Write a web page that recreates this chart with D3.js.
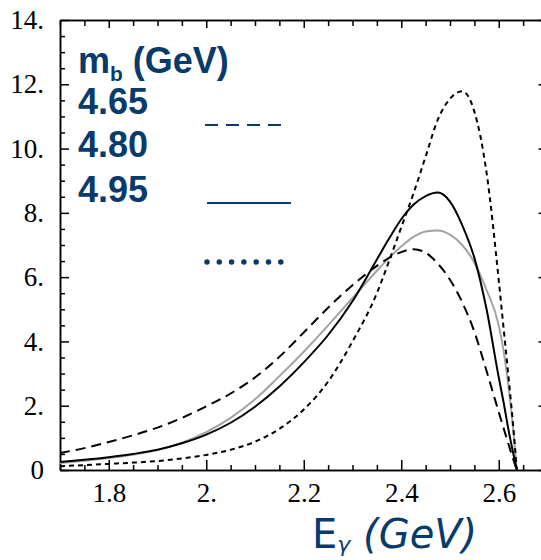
<!DOCTYPE html>
<html>
<head>
<meta charset="utf-8">
<script src="https://cdn.jsdelivr.net/npm/d3@7"></script>
<style>
  body { margin: 0; background: #fff; }
</style>
</head>
<body>
<svg id="spectrum" width="541" height="560"></svg>
<script>
// photon energy grid (GeV)
var energies = [1.70, 1.75, 1.80, 1.85, 1.90, 1.95, 2.00, 2.05, 2.10, 2.15, 2.20, 2.25, 2.30, 2.35,
    2.375, 2.40, 2.425, 2.45, 2.475, 2.50, 2.525, 2.55, 2.575, 2.60, 2.61, 2.62, 2.63, 2.637];

// m_b = 4.65 (dashed)
var mb465 = [0.53, 0.68, 0.87, 1.08, 1.32, 1.62, 1.98, 2.38, 2.88, 3.52, 4.28, 5.05, 5.75, 6.35,
    6.60, 6.78, 6.87, 6.76, 6.42, 5.92, 5.22, 4.30, 3.08, 1.80, 1.30, 0.80, 0.32, 0];
// m_b = 4.80 (solid)
var mb480 = [0.25, 0.32, 0.40, 0.50, 0.63, 0.83, 1.10, 1.47, 1.97, 2.60, 3.35, 4.20, 5.25, 6.55,
    7.20, 7.80, 8.25, 8.52, 8.63, 8.35, 7.62, 6.60, 5.00, 2.88, 2.10, 1.25, 0.50, 0];
// grey reference curve
var greyCurve = [0.22, 0.29, 0.37, 0.48, 0.62, 0.85, 1.18, 1.62, 2.20, 2.92, 3.68, 4.50, 5.35, 6.20,
    6.60, 6.95, 7.25, 7.42, 7.45, 7.32, 7.00, 6.45, 5.60, 4.50, 3.70, 2.60, 1.20, 0];
// m_b = 4.95 (dotted)
var mb495 = [0.12, 0.15, 0.19, 0.23, 0.28, 0.36, 0.47, 0.63, 0.88, 1.28, 1.88, 2.75, 4.00, 5.50,
    6.50, 7.55, 8.60, 9.75, 10.90, 11.55, 11.78, 11.15, 9.25, 5.90, 4.40, 2.90, 1.30, 0];

var xTicks = [1.8, 2.0, 2.2, 2.4, 2.6];
var xTickLabels = ["1.8", "2.", "2.2", "2.4", "2.6"];
var yTicks = [0, 2, 4, 6, 8, 10, 12, 14];
var yTickLabels = ["0", "2.", "4.", "6.", "8.", "10.", "12.", "14."];
var legendTitle = "(GeV)";
var legendLabels = ["4.65", "4.80", "4.95"];

(function spectrum() {
    var svg = d3.select("#spectrum"),
        blue = "#083a6c",
        plotLeft = 60, plotTop = 20, plotRight = 547.5, plotBottom = 470;

    var x = d3.scaleLinear().domain([1.7, 2.7]).range([plotLeft, plotRight]),
        y = d3.scaleLinear().domain([0, 14]).range([plotBottom, plotTop]);

    var xMinor = d3.range(1.7, 2.7001, 0.05).filter(function (v) {
        return xTicks.every(function (t) { return Math.abs(t - v) > 1e-6; });
    });
    var yMinor = d3.range(0, 14.001, 0.5).filter(function (v) {
        return yTicks.indexOf(v) < 0;
    });

    function styleAxis(g) {
        g.selectAll("path, line").attr("stroke", "#000").attr("stroke-width", 1.5);
        g.selectAll("text")
            .attr("font-family", "'Liberation Serif', 'DejaVu Serif', serif")
            .attr("font-size", 27)
            .attr("fill", "#000");
    }

    // bottom axis
    svg.append("g")
        .attr("transform", "translate(0," + plotBottom + ")")
        .call(d3.axisBottom(x).tickValues(xMinor).tickSize(-5).tickSizeOuter(0).tickFormat(""))
        .call(styleAxis);
    svg.append("g")
        .attr("transform", "translate(0," + plotBottom + ")")
        .call(d3.axisBottom(x).tickValues(xTicks).tickSize(-10).tickSizeOuter(0).tickPadding(13)
            .tickFormat(function (d, i) { return xTickLabels[i]; }))
        .call(styleAxis);

    // top axis
    svg.append("g")
        .attr("transform", "translate(0," + plotTop + ")")
        .call(d3.axisTop(x).tickValues(xMinor).tickSize(-6).tickSizeOuter(0).tickFormat(""))
        .call(styleAxis);
    svg.append("g")
        .attr("transform", "translate(0," + plotTop + ")")
        .call(d3.axisTop(x).tickValues(xTicks).tickSize(-8).tickSizeOuter(0).tickFormat(""))
        .call(styleAxis);

    // left axis
    svg.append("g")
        .attr("transform", "translate(" + plotLeft + ",0)")
        .call(d3.axisLeft(y).tickValues(yMinor).tickSize(-5).tickSizeOuter(0).tickFormat(""))
        .call(styleAxis);
    svg.append("g")
        .attr("transform", "translate(" + plotLeft + ",0)")
        .call(d3.axisLeft(y).tickValues(yTicks).tickSize(-9).tickSizeOuter(0).tickPadding(16)
            .tickFormat(function (d, i) { return yTickLabels[i]; }))
        .call(styleAxis);

    // right axis
    svg.append("g")
        .attr("transform", "translate(" + plotRight + ",0)")
        .call(d3.axisRight(y).tickValues(yTicks).tickSize(-9).tickSizeOuter(0).tickFormat(""))
        .call(styleAxis);

    // curves
    var line = d3.line()
        .x(function (d, i) { return x(energies[i]); })
        .y(function (d) { return y(d); })
        .curve(d3.curveMonotoneX);

    var curves = [
        { values: greyCurve, color: "#a3a3a3", dash: null },
        { values: mb480, color: "#000", dash: null },
        { values: mb465, color: "#000", dash: "10,6" },
        { values: mb495, color: "#000", dash: "5,4" }
    ];

    svg.selectAll(".curve")
        .data(curves)
        .enter().append("path")
        .attr("class", "curve")
        .attr("fill", "none")
        .attr("stroke", function (d) { return d.color; })
        .attr("stroke-width", 2)
        .attr("stroke-dasharray", function (d) { return d.dash; })
        .attr("d", function (d) { return line(d.values); });

    // legend
    var legend = svg.append("g")
        .attr("font-family", "'Liberation Sans', Arial, sans-serif")
        .attr("font-weight", "bold")
        .attr("fill", blue);

    var title = legend.append("text")
        .attr("x", 78)
        .attr("y", 73)
        .attr("font-size", 36);
    title.append("tspan").text("m");
    title.append("tspan").attr("font-size", 21).attr("dy", 8).text("b");
    title.append("tspan").attr("dy", -8).text(" " + legendTitle);

    legend.selectAll(".lab")
        .data(legendLabels)
        .enter().append("text")
        .attr("class", "lab")
        .attr("x", 78)
        .attr("y", function (d, i) { return [114, 157, 202][i]; })
        .attr("font-size", 36)
        .text(function (d) { return d; });

    legend.append("line")
        .attr("x1", 205).attr("x2", 289).attr("y1", 125).attr("y2", 125)
        .attr("stroke", blue).attr("stroke-width", 2).attr("stroke-dasharray", "13,8");
    legend.append("line")
        .attr("x1", 207).attr("x2", 291).attr("y1", 203).attr("y2", 203)
        .attr("stroke", blue).attr("stroke-width", 2);
    legend.append("line")
        .attr("x1", 207).attr("x2", 283).attr("y1", 262).attr("y2", 262)
        .attr("stroke", blue).attr("stroke-width", 5.5)
        .attr("stroke-linecap", "round").attr("stroke-dasharray", "0,12.3");

    // x label
    var xlab = svg.append("text")
        .attr("x", 312)
        .attr("y", 548)
        .attr("font-family", "'DejaVu Sans', sans-serif")
        .attr("font-style", "italic")
        .attr("font-size", 40)
        .attr("fill", blue);
    xlab.append("tspan").attr("font-style", "normal").text("E");
    xlab.append("tspan").attr("font-size", 22).attr("dy", 4).text("γ");
    xlab.append("tspan").attr("dy", -4).text(" (GeV)");
}());
</script>
</body>
</html>
